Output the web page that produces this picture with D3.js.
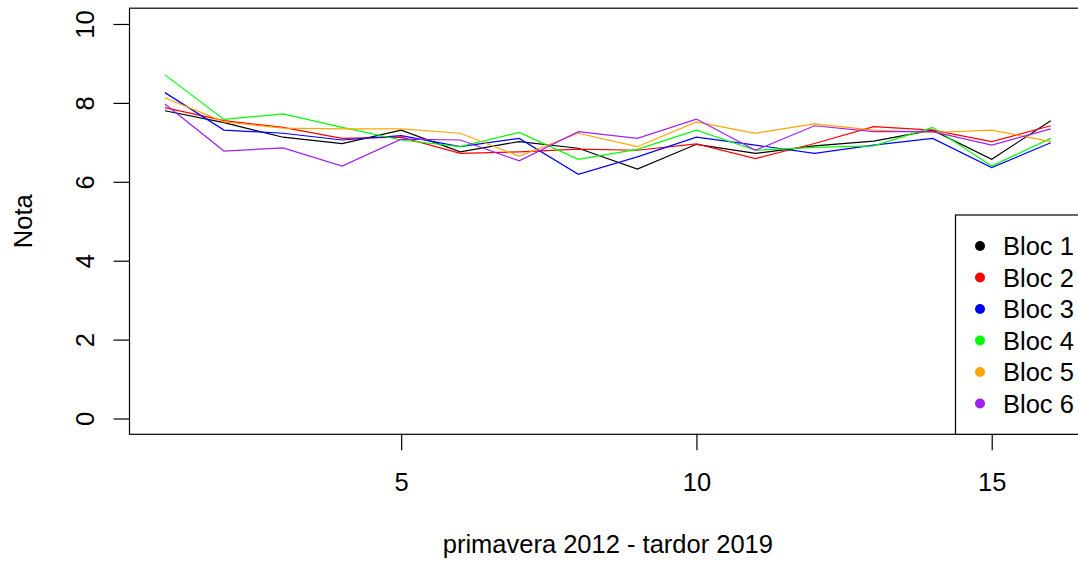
<!DOCTYPE html>
<html>
<head>
<meta charset="utf-8">
<script src="https://cdn.jsdelivr.net/npm/d3@7"></script>
<style>
  body { margin: 0; background: #fff; }
  svg { display: block; font-family: "Liberation Sans", Arial, sans-serif; }
</style>
</head>
<body>
<svg id="chart"></svg>
<script>
const periods = d3.range(1, 17);
const xTicks = [5, 10, 15];
const yTicks = [0, 2, 4, 6, 8, 10];
const blocNames = ["Bloc 1", "Bloc 2", "Bloc 3", "Bloc 4", "Bloc 5", "Bloc 6"];
const blocColors = ["#000000", "#ff0000", "#0000ff", "#00ff00", "#ffa500", "#a020f0"];

const bloc1 = [7.80, 7.50, 7.13, 6.97, 7.31, 6.76, 7.02, 6.85, 6.32, 6.95, 6.72, 6.91, 7.03, 7.31, 6.57, 7.55];
const bloc2 = [7.88, 7.55, 7.38, 7.10, 7.13, 6.72, 6.76, 6.83, 6.80, 6.96, 6.59, 6.97, 7.40, 7.31, 7.02, 7.42];
const bloc3 = [8.26, 7.31, 7.23, 7.06, 7.17, 6.89, 7.10, 6.19, 6.63, 7.13, 6.93, 6.72, 6.93, 7.10, 6.36, 6.99];
const bloc4 = [8.71, 7.58, 7.72, 7.38, 7.06, 6.89, 7.25, 6.57, 6.82, 7.31, 6.80, 6.87, 6.91, 7.38, 6.40, 7.10];
const bloc5 = [8.13, 7.52, 7.36, 7.34, 7.34, 7.23, 6.65, 7.23, 6.89, 7.52, 7.23, 7.47, 7.31, 7.25, 7.31, 7.02];
const bloc6 = [7.97, 6.78, 6.86, 6.40, 7.08, 7.06, 6.53, 7.27, 7.10, 7.59, 6.80, 7.42, 7.27, 7.27, 6.93, 7.34];
const blocs = [bloc1, bloc2, bloc3, bloc4, bloc5, bloc6];

const width = 1078;
const height = 561;
const fontSize = 25.5;

const svg = d3.select("#chart")
    .attr("width", width)
    .attr("height", height);

// R style: 4% padding around the data range
const x = d3.scaleLinear().domain([0.4, 16.6]).range([129.5, 1086.2]);
const y = d3.scaleLinear().domain([-0.4, 10.4]).range([434.3, 8.2]);

const line = d3.line()
    .x((d, i) => x(periods[i]))
    .y(d => y(d));

svg.append("g")
    .selectAll("path")
    .data(blocs)
    .join("path")
    .attr("d", line)
    .attr("fill", "none")
    .attr("stroke", (d, i) => blocColors[i])
    .attr("stroke-width", 1.2);

// plot box
svg.append("rect")
    .attr("x", x.range()[0])
    .attr("y", y.range()[1])
    .attr("width", x.range()[1] - x.range()[0])
    .attr("height", y.range()[0] - y.range()[1])
    .attr("fill", "none")
    .attr("stroke", "#000")
    .attr("stroke-width", 1.2);

// x axis
const xAxis = svg.append("g")
    .attr("transform", `translate(0, ${y.range()[0]})`)
    .call(d3.axisBottom(x).tickValues(xTicks).tickSize(16).tickPadding(0).tickFormat(d3.format("d")));
xAxis.select(".domain").remove();
xAxis.selectAll("line").attr("stroke", "#000").attr("stroke-width", 1.2);
xAxis.selectAll("text")
    .attr("y", 57)
    .attr("dy", null)
    .attr("font-size", fontSize)
    .attr("font-family", "Liberation Sans, Arial, sans-serif")
    .attr("fill", "#000");

// y axis
const yAxis = svg.append("g")
    .attr("transform", `translate(${x.range()[0]}, 0)`)
    .call(d3.axisLeft(y).tickValues(yTicks).tickSize(16).tickFormat(d3.format("d")));
yAxis.select(".domain").remove();
yAxis.selectAll("line").attr("stroke", "#000").attr("stroke-width", 1.2);
yAxis.selectAll("text")
    .attr("x", null)
    .attr("dy", null)
    .attr("text-anchor", "middle")
    .attr("transform", "translate(-36, 0) rotate(-90)")
    .attr("font-size", fontSize)
    .attr("font-family", "Liberation Sans, Arial, sans-serif")
    .attr("fill", "#000");

// axis titles
svg.append("text")
    .attr("x", (x.range()[0] + x.range()[1]) / 2)
    .attr("y", 553)
    .attr("text-anchor", "middle")
    .attr("font-size", fontSize)
    .attr("fill", "#000")
    .text("primavera 2012 - tardor 2019");

svg.append("text")
    .attr("transform", `translate(32, ${(y.range()[0] + y.range()[1]) / 2}) rotate(-90)`)
    .attr("text-anchor", "middle")
    .attr("font-size", fontSize)
    .attr("fill", "#000")
    .text("Nota");

// legend, bottom right corner of the plot
const legend = svg.append("g");
legend.append("rect")
    .attr("x", 955.5)
    .attr("y", 215)
    .attr("width", x.range()[1] - 955.5)
    .attr("height", y.range()[0] - 215)
    .attr("fill", "#fff")
    .attr("stroke", "#000")
    .attr("stroke-width", 1.2);

const items = legend.selectAll("g.item")
    .data(blocNames)
    .join("g")
    .attr("class", "item")
    .attr("transform", (d, i) => `translate(980, ${246 + i * 31.5})`);
items.append("circle")
    .attr("r", 5)
    .attr("fill", (d, i) => blocColors[i]);
items.append("text")
    .attr("x", 23)
    .attr("dy", "0.36em")
    .attr("font-size", fontSize)
    .attr("fill", "#000")
    .text(d => d);
</script>
</body>
</html>
